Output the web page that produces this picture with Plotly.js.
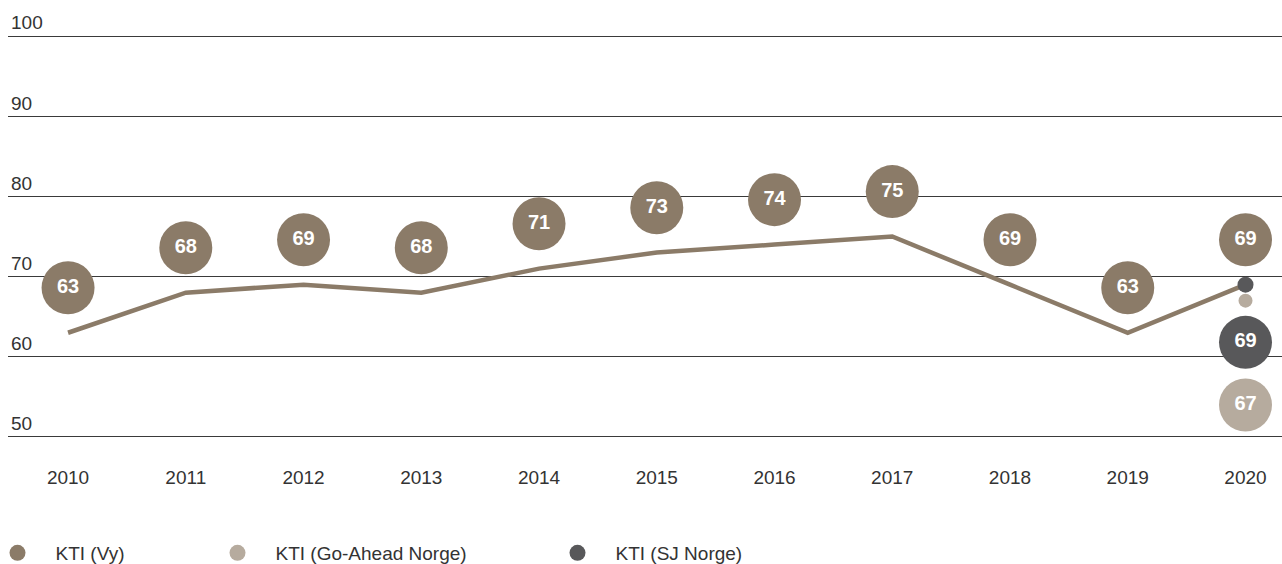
<!DOCTYPE html>
<html>
<head>
<meta charset="utf-8">
<script src="https://cdn.plot.ly/plotly-3.0.1.min.js"></script>
<style>
  html, body { margin: 0; padding: 0; background: #fff; }
  #chart { width: 1282px; height: 564px; }
</style>
</head>
<body>
<div id="chart"></div>
<script>
// KTI scores per year
var years = [2010, 2011, 2012, 2013, 2014, 2015, 2016, 2017, 2018, 2019, 2020];
var ktiVy = [63, 68, 69, 68, 71, 73, 74, 75, 69, 63, 69];

// only measured in 2020
var goAheadYears = [2020];
var ktiGoAhead = [67];
var sjYears = [2020];
var ktiSJ = [69];

var yTicks = [50, 60, 70, 80, 90, 100];

var brown = "#8b7b68";
var beige = "#b6ab9e";
var grey = "#58585a";

// bubble labels sit a bit away from the actual point
var vyShift = 5.6;
var sjShift = -7.2;
var goShift = -13;

var labelFont = {family: "Liberation Sans, Arial, sans-serif", size: 20, color: "#fff", weight: 700};

var lineVy = {
    x: years,
    y: ktiVy,
    mode: "lines",
    line: {color: brown, width: 4.5},
    showlegend: false,
    hoverinfo: "skip"
};

var bubblesVy = {
    x: years,
    y: ktiVy.map(v => v + vyShift),
    mode: "markers+text",
    name: "KTI (Vy)",
    text: ktiVy.map(String),
    textposition: "middle center",
    textfont: labelFont,
    marker: {size: 53, color: brown},
    legend: "legend",
    hoverinfo: "skip"
};

var dotGoAhead = {
    x: goAheadYears,
    y: ktiGoAhead,
    mode: "markers",
    marker: {size: 14, color: beige},
    showlegend: false,
    hoverinfo: "skip"
};

var dotSJ = {
    x: sjYears,
    y: ktiSJ,
    mode: "markers",
    marker: {size: 16, color: grey},
    showlegend: false,
    hoverinfo: "skip"
};

var bubblesGoAhead = {
    x: goAheadYears,
    y: ktiGoAhead.map(v => v + goShift),
    mode: "markers+text",
    name: "KTI (Go-Ahead Norge)",
    text: ktiGoAhead.map(String),
    textposition: "middle center",
    textfont: labelFont,
    marker: {size: 53, color: beige},
    legend: "legend2",
    hoverinfo: "skip"
};

var bubblesSJ = {
    x: sjYears,
    y: ktiSJ.map(v => v + sjShift),
    mode: "markers+text",
    name: "KTI (SJ Norge)",
    text: ktiSJ.map(String),
    textposition: "middle center",
    textfont: labelFont,
    marker: {size: 53, color: grey},
    legend: "legend3",
    hoverinfo: "skip"
};

var data = [lineVy, bubblesVy, dotGoAhead, bubblesGoAhead, bubblesSJ, dotSJ];

var tickFont = {family: "Liberation Sans, Arial, sans-serif", size: 19, color: "#333"};

// margins are fixed, so legends outside the plot don't push anything
function legendAt(px) {
    return {
        orientation: "h",
        xref: "paper",
        yref: "container",
        x: (px - 37.5 - 8) / 1274,
        xanchor: "left",
        y: (564 - 553) / 564,
        yanchor: "middle",
        font: tickFont,
        itemwidth: 66,
        itemsizing: "trace",
        bgcolor: "rgba(0,0,0,0)"
    };
}

var layout = {
    width: 1282,
    height: 564,
    margin: {l: 8, r: 0, t: 11.94, b: 122.99, autoexpand: false},
    paper_bgcolor: "#fff",
    plot_bgcolor: "#fff",
    showlegend: true,
    xaxis: {
        range: [2009.49, 2020.31],
        tickvals: years,
        ticktext: years.map(String),
        showgrid: false,
        zeroline: false,
        showline: false,
        ticks: "",
        ticklabelstandoff: 23,
        tickfont: tickFont,
        automargin: false,
        fixedrange: true
    },
    yaxis: {
        // a little room above 100 so its label stays inside the plot
        range: [49.5, 103],
        tickvals: yTicks,
        ticktext: yTicks.map(String),
        ticklabelposition: "inside top",
        showgrid: true,
        gridcolor: "#3a3a3a",
        gridwidth: 1,
        zeroline: false,
        showline: false,
        ticks: "",
        tickfont: tickFont,
        automargin: false,
        fixedrange: true
    },
    legend: legendAt(17),
    legend2: legendAt(237),
    legend3: legendAt(577)
};

Plotly.newPlot("chart", data, layout, {displayModeBar: false, staticPlot: true});
</script>
</body>
</html>
